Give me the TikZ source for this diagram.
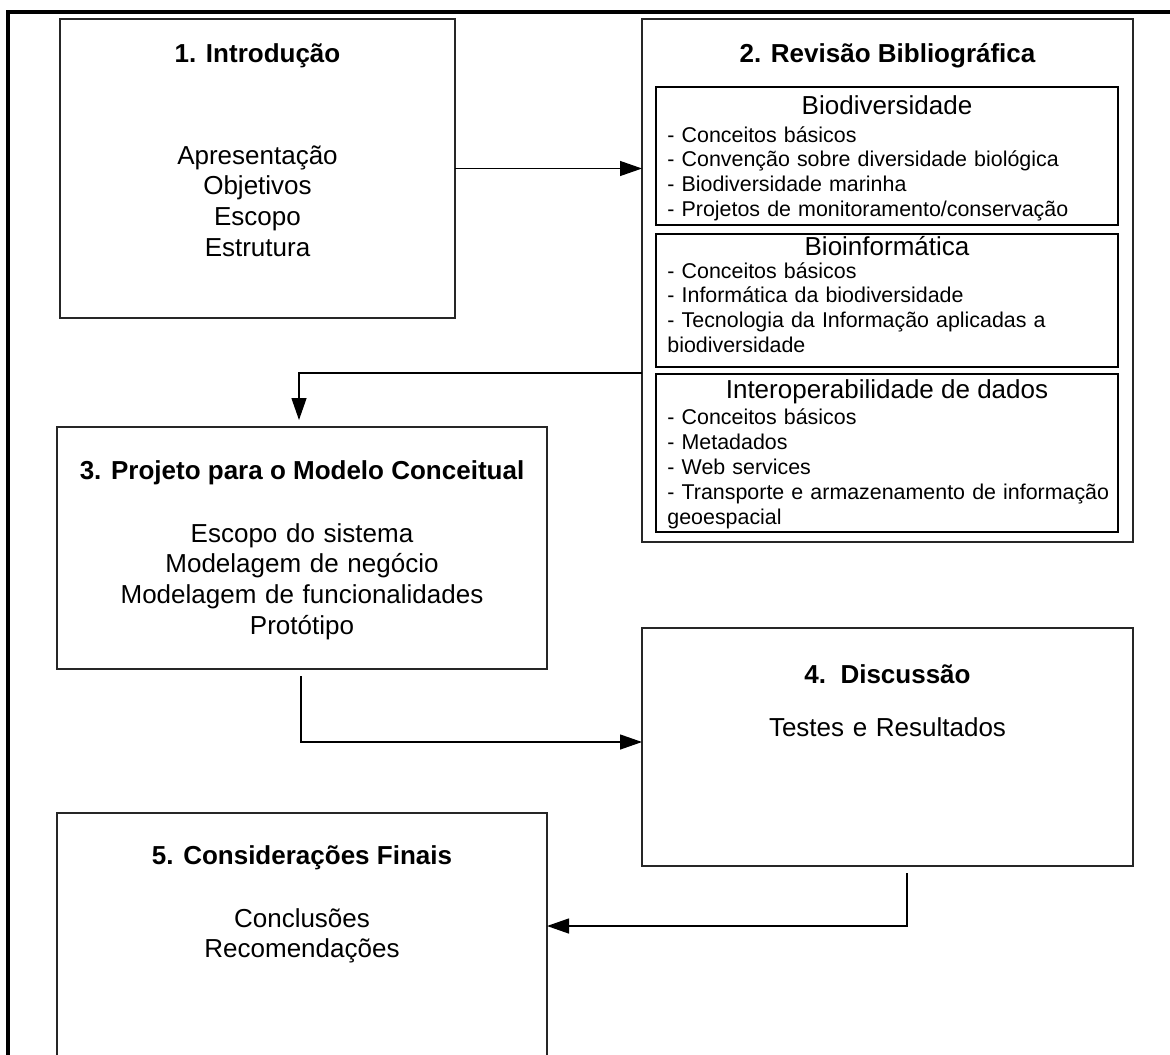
\documentclass[tikz,border=0pt]{standalone}
\usepackage{fontspec}
\setmainfont{Liberation Sans}
\usetikzlibrary{arrows.meta}
\begin{document}
\begin{tikzpicture}[x=0.5pt,y=-0.5pt,
  box/.style={draw=black!85, line width=0.75pt, rectangle, inner sep=0pt, outer sep=0pt},
  subbox/.style={draw=black, line width=1.15pt, rectangle, inner sep=0pt, outer sep=0pt},
  title/.style={font=\fontsize{13}{15.35}\selectfont\bfseries, anchor=base, inner sep=0pt},
  body/.style={font=\fontsize{13}{15.35}\selectfont, anchor=base, align=center, text width=230pt, inner sep=0pt},
  head/.style={font=\fontsize{13}{15}\selectfont, anchor=base, inner sep=0pt},
  items/.style={font=\fontsize{10.7}{12.4}\selectfont, anchor=base west, align=left, text width=230pt, inner sep=0pt},
  conn/.style={line width=0.65pt, -{Triangle[length=11pt,width=7.5pt]}},
]
\useasboundingbox (0,0) rectangle (1170,1054);
\clip (0,0) rectangle (1170,1054);
\fill[white] (0,0) rectangle (1170,1054);

% outer frame (top and left sides)
\draw[line width=2pt, line join=miter] (8,1080) -- (8,12) -- (1180,12);

% chapter boxes
\node[box, minimum width=197.5pt, minimum height=149.5pt] (b1) at (257.5,168.5) {};
\node[box, minimum width=245.5pt, minimum height=261.5pt] (b2) at (887.5,280.5) {};
\node[box, minimum width=245pt, minimum height=121pt] (b3) at (302,548) {};
\node[box, minimum width=245.5pt, minimum height=119pt] (b4) at (887.5,747) {};
\node[box, minimum width=245pt, minimum height=140pt] (b5) at (302,953) {};

% sub-boxes of chapter 2
\node[subbox, minimum width=231pt, minimum height=69pt] (i1) at (887,156) {};
\node[subbox, minimum width=231pt, minimum height=66.5pt] (i2) at (887,300.5) {};
\node[subbox, minimum width=231pt, minimum height=79pt] (i3) at (887,453) {};

% chapter 1
\node[title] (t1) at (257.5,62) {1. Introdução};
\node[body] (c1) at (257.5,164) {Apresentação\\Objetivos\\Escopo\\Estrutura};

% chapter 2
\node[title] (t2) at (887.5,62) {2. Revisão Bibliográfica};
\node[head] (h1) at (887,114) {Biodiversidade};
\node[items] (l1) at (667,142) {- Conceitos básicos\\- Convenção sobre diversidade biológica\\- Biodiversidade marinha\\- Projetos de monitoramento/conservação};
\node[head] (h2) at (887,255) {Bioinformática};
\node[items] (l2) at (667,278) {- Conceitos básicos\\- Informática da biodiversidade\\- Tecnologia da Informação aplicadas a\\biodiversidade};
\node[head] (h3) at (887,398) {Interoperabilidade de dados};
\node[items, font=\fontsize{10.7}{12.6}\selectfont] (l3) at (667,424) {- Conceitos básicos\\- Metadados\\- Web services\\- Transporte e armazenamento de informação\\geoespacial};

% chapter 3
\node[title] (t3) at (302,479) {3. Projeto para o Modelo Conceitual};
\node[body] (c3) at (302,542) {Escopo do sistema\\Modelagem de negócio\\Modelagem de funcionalidades\\Protótipo};

% chapter 4
\node[title] (t4) at (887.5,683) {4.\ \ Discussão};
\node[body] (c4) at (887.5,736) {Testes e Resultados};

% chapter 5
\node[title] (t5) at (302,864) {5. Considerações Finais};
\node[body] (c5) at (302,927) {Conclusões\\Recomendações};

% connectors
\coordinate (k2) at (0,373);
\coordinate (k3) at (0,742);
\coordinate (s4) at (907,866);
\coordinate (k4) at (0,926);
\draw[conn] (b1.east) -- (b1.east -| b2.west);
\draw[conn, shorten >=3.5pt] (b2.west |- k2) -| (b3.north -| 299,0);
\draw[conn, shorten <=3.5pt] (b3.south -| 301,0) |- (b4.west |- k3);
\draw[conn, shorten <=3.5pt] (s4) |- (b5.east |- k4);
\end{tikzpicture}
\end{document}
